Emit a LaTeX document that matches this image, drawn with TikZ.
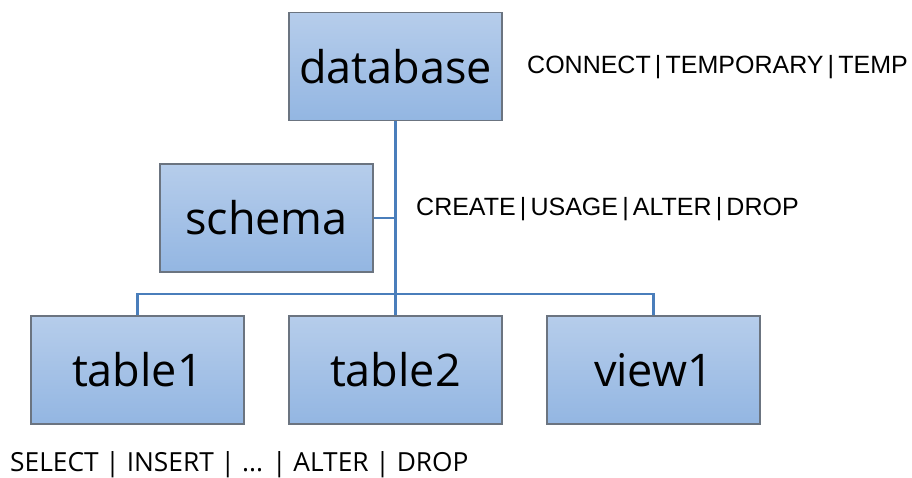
\documentclass[tikz,border=0pt]{standalone}
\usepackage{fontspec}
\setmainfont{Open Sans}
\newfontfamily\arialfont{Liberation Sans}
\definecolor{boxtop}{HTML}{B6CDEB}
\definecolor{boxbot}{HTML}{93B6E2}
\definecolor{boxline}{HTML}{6B7480}
\definecolor{conn}{HTML}{4A7EBB}
\begin{document}
\begin{tikzpicture}[x=1pt,y=-1pt,
  objbox/.style={draw=boxline, line width=1.2pt, top color=boxtop, bottom color=boxbot,
    minimum width=213pt, minimum height=108pt, inner sep=0pt,
    font=\fontsize{45}{50}\selectfont},
  link/.style={draw=conn, line width=2.4pt},
  privtxt/.style={font=\arialfont\fontsize{25}{28}\selectfont, inner sep=0pt, anchor=west},
  privtxtb/.style={font=\fontsize{26.3}{30}\selectfont, inner sep=0pt, anchor=west}]
\useasboundingbox (0,0) rectangle (912,477);
\node[objbox] (db) at (395.5,66.5) {database};
\node[objbox] (sc) at (266.5,218) {schema};
\node[objbox] (t1) at (137.5,370) {table1};
\node[objbox] (t2) at (395.5,370) {table2};
\node[objbox] (v1) at (653.5,370) {view1};
\coordinate (busL) at (137.5,294);
\coordinate (busM) at (395.5,294);
\coordinate (busR) at (653.5,294);
\coordinate (scJ) at (395.5,218);
\draw[link] (db.south) -- (t2.north);
\draw[link] (sc.east) -- (scJ);
\draw[link] (t1.north) -- (busL) -- (busR) -- (v1.north);
\node[privtxt] (p1) at (527,67.5) {CONNECT\,|\,TEMPORARY\,|\,TEMP};
\node[privtxt] (p2) at (416,209) {CREATE\,|\,USAGE\,|\,ALTER\,|\,DROP};
\node[privtxtb] (p3) at (10,464.5) {SELECT | INSERT | ... | ALTER | DROP};
\end{tikzpicture}
\end{document}
